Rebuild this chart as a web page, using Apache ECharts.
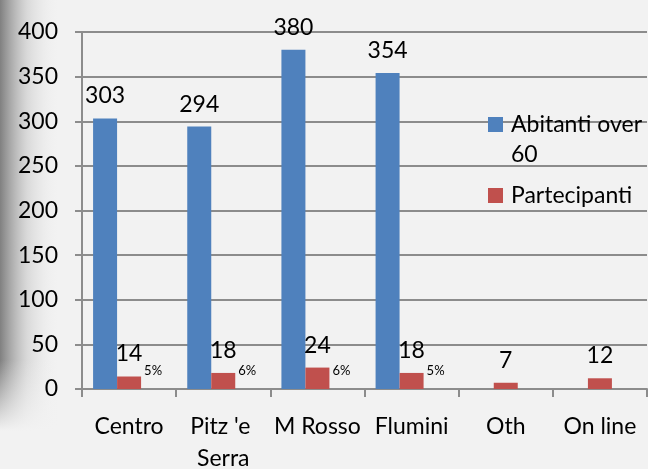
<!DOCTYPE html>
<html>
<head>
<meta charset="utf-8">
<script src="https://cdn.jsdelivr.net/npm/echarts@6/dist/echarts.min.js"></script>
<style>
  html, body { margin: 0; padding: 0; background: #f2f2f2; }
  #chart { width: 648px; height: 469px; }
</style>
</head>
<body>
<div id="chart"></div>
<script>
// categories and values
const categories = ['Centro', "Pitz 'e Serra", 'M Rosso', 'Flumini', 'Oth', 'On line']
const abitanti = [303, 294, 380, 354, null, null]
const partecipanti = [14, 18, 24, 18, 7, 12]
const percentuali = ['5%', '6%', '6%', '5%', null, null]
const yTicks = { min: 0, max: 400, interval: 50 }

const FONT = 'Lato'
const chart = echarts.init(document.getElementById('chart'), null, { renderer: 'canvas' })

// third (invisible) series only carries the percentage labels, like the Excel original
const pctData = percentuali.map((p) => (p == null ? null : 0))

const labelTop = {
  show: true,
  position: 'top',
  distance: 11,
  color: '#000',
  fontFamily: FONT,
  fontSize: 23,
}

const option = {
  animation: false,
  backgroundColor: '#f2f2f2',
  textStyle: { fontFamily: FONT },
  // no auto shrinking: the two-line category label may run off the bottom like the original
  grid: { left: 82, right: 1, top: 32, bottom: 80, outerBoundsMode: 'none' },
  graphic: [
    // grey shadow along the left edge
    {
      type: 'rect',
      left: 0, top: 0, z: -10,
      shape: { width: 60, height: 469 },
      style: {
        fill: new echarts.graphic.LinearGradient(0, 0, 1, 0, [
          { offset: 0, color: 'rgba(128,128,128,1)' },
          { offset: 0.45, color: 'rgba(200,200,200,0.6)' },
          { offset: 1, color: 'rgba(242,242,242,0)' },
        ]),
      },
    },
    {
      type: 'rect',
      left: 0, top: 360, z: -9,
      shape: { width: 60, height: 109 },
      style: {
        fill: new echarts.graphic.LinearGradient(0, 0, 0, 1, [
          { offset: 0, color: 'rgba(242,242,242,0)' },
          { offset: 0.65, color: 'rgba(242,242,242,1)' },
          { offset: 1, color: 'rgba(242,242,242,1)' },
        ]),
      },
    },
  ],
  legend: [
    {
      data: ['Abitanti over 60'],
      orient: 'vertical',
      left: 483,
      top: 74.5,
      icon: 'rect',
      itemWidth: 15,
      itemHeight: 15,
      // blank first line keeps the marker level with the first text line
      formatter: () => ' \nAbitanti over\n60',
      textStyle: { fontFamily: FONT, fontSize: 23, lineHeight: 30, color: '#000', padding: [0, 0, 0, 3] },
    },
    {
      data: ['Partecipanti'],
      orient: 'vertical',
      left: 483,
      top: 175.5,
      icon: 'rect',
      itemWidth: 15,
      itemHeight: 15,
      textStyle: { fontFamily: FONT, fontSize: 23, lineHeight: 30, color: '#000', padding: [0, 0, 0, 3] },
    },
  ],
  xAxis: {
    type: 'category',
    data: categories,
    axisLine: { lineStyle: { color: '#8c8c8c', width: 2 } },
    axisTick: { show: true, length: 8, lineStyle: { color: '#8c8c8c', width: 2 } },
    axisLabel: {
      interval: 0,
      margin: 22,
      color: '#000',
      fontFamily: FONT,
      fontSize: 23,
      lineHeight: 32,
      width: 92,
      overflow: 'break',
    },
  },
  yAxis: {
    type: 'value',
    min: yTicks.min,
    max: yTicks.max,
    interval: yTicks.interval,
    axisLine: { show: true, lineStyle: { color: '#8c8c8c', width: 2 } },
    axisTick: { show: true, length: 7, lineStyle: { color: '#8c8c8c', width: 2 } },
    axisLabel: { margin: 24, color: '#000', fontFamily: FONT, fontSize: 23 },
    splitLine: { lineStyle: { color: '#8c8c8c', width: 2 } },
  },
  series: [
    {
      name: 'Abitanti over 60',
      type: 'bar',
      data: abitanti,
      barWidth: 24,
      barGap: '0%',
      itemStyle: { color: '#4f81bd' },
      label: labelTop,
    },
    {
      name: 'Partecipanti',
      type: 'bar',
      data: partecipanti,
      barWidth: 24,
      barGap: '0%',
      itemStyle: { color: '#c0504d' },
      label: labelTop,
    },
    {
      name: 'pct',
      type: 'bar',
      data: pctData,
      barWidth: 24,
      barGap: '0%',
      itemStyle: { color: 'transparent' },
      label: {
        show: true,
        position: 'top',
        distance: 12,
        color: '#000',
        fontFamily: FONT,
        fontSize: 13,
        formatter: (p) => percentuali[p.dataIndex] || '',
      },
    },
  ],
}

chart.setOption(option)
</script>
</body>
</html>
